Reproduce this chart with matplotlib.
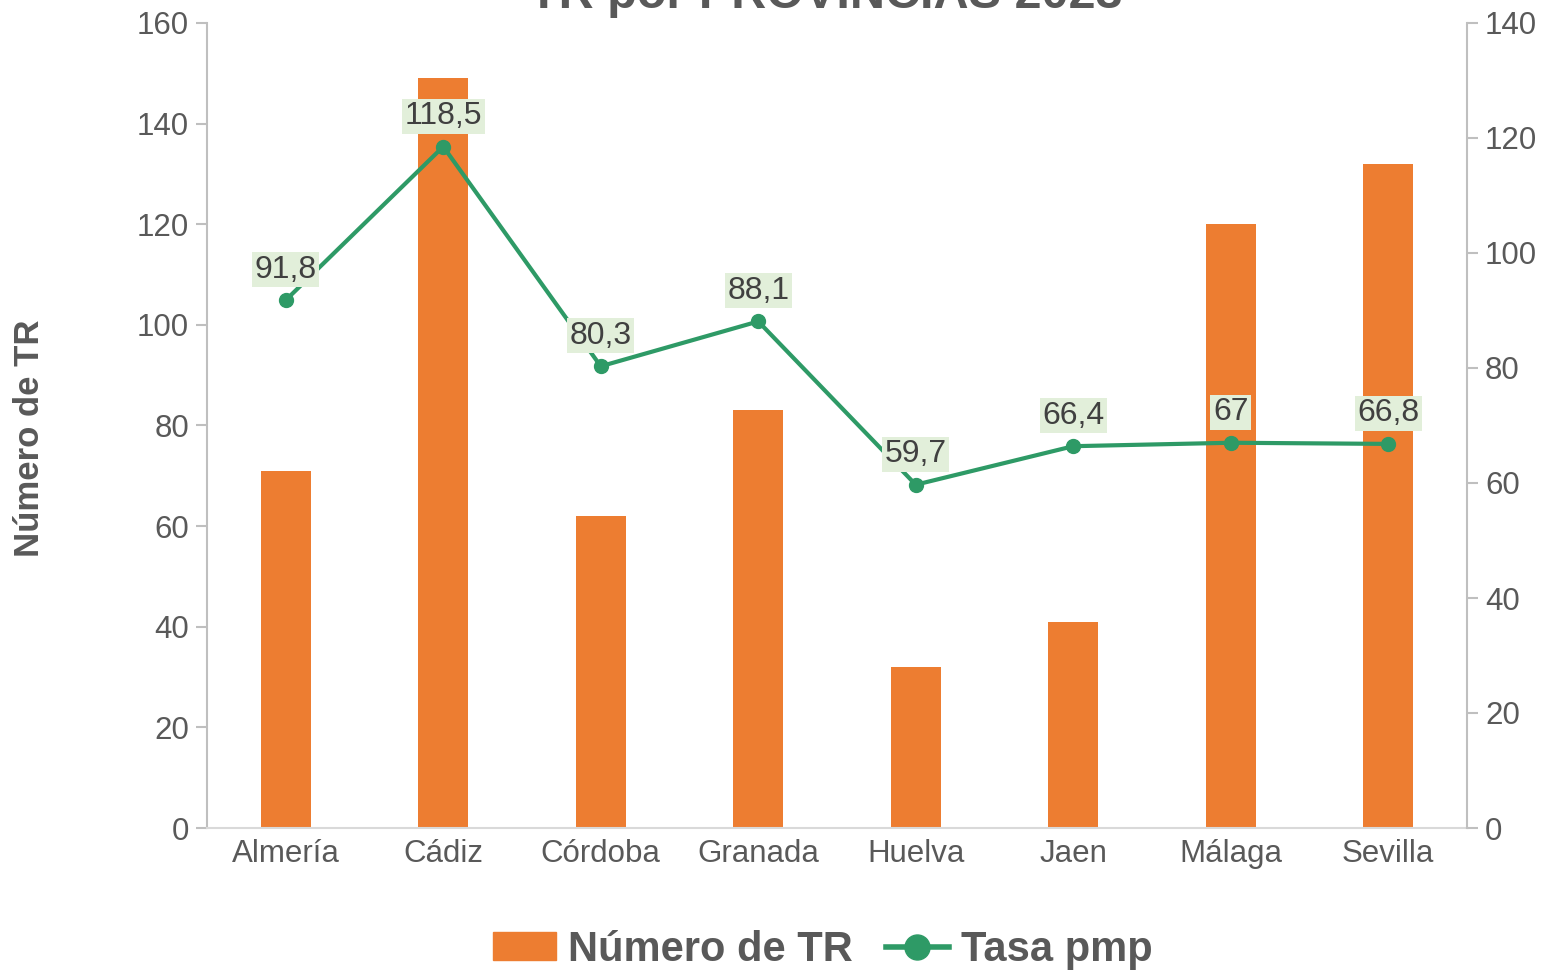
import matplotlib.pyplot as plt
from matplotlib.lines import Line2D
from matplotlib.patches import Patch

plt.rcParams['font.family'] = ['Liberation Sans', 'DejaVu Sans']

# data
provincias = ['Almería', 'Cádiz', 'Córdoba', 'Granada', 'Huelva', 'Jaen', 'Málaga', 'Sevilla']
numero_tr = [71, 149, 62, 83, 32, 41, 120, 132]
tasa_pmp = [91.8, 118.5, 80.3, 88.1, 59.7, 66.4, 67, 66.8]
tasa_labels = ['91,8', '118,5', '80,3', '88,1', '59,7', '66,4', '67', '66,8']

orange = '#ed7d31'
green = '#2e9a66'
grey = '#595959'

fig = plt.figure(figsize=(15.46, 9.71), dpi=100)
ax = fig.add_axes([207 / 1546, 1 - 828 / 971, 1260 / 1546, 805 / 971])
ax2 = ax.twinx()

x = range(len(provincias))
ax.bar(x, numero_tr, width=0.32, color=orange, zorder=2)
ax.set_xlim(-0.5, 7.5)
ax.set_ylim(0, 160)
ax.set_yticks(range(0, 161, 20))
ax.set_xticks(list(x))
ax.set_xticklabels(provincias)

ax2.plot(x, tasa_pmp, color=green, lw=3, marker='o', ms=10, zorder=3)
ax2.set_ylim(0, 140)
ax2.set_yticks(range(0, 141, 20))
for xi, v, lab in zip(x, tasa_pmp, tasa_labels):
    ax2.annotate(lab, (xi, v), xytext=(0, 22), textcoords='offset points',
                 ha='center', va='center', fontsize=23, color='#404040',
                 bbox=dict(boxstyle='square,pad=0.08', fc='#e2efda', ec='none'))

for a in (ax, ax2):
    for s in a.spines.values():
        s.set_visible(False)
    a.tick_params(labelsize=22.5, colors=grey)
ax.spines['left'].set_visible(True)
ax.spines['left'].set_color('#bfbfbf')
ax.spines['left'].set_linewidth(1.5)
ax.spines['bottom'].set_visible(True)
ax.spines['bottom'].set_color('#d9d9d9')
ax.spines['bottom'].set_linewidth(1.5)
ax2.spines['right'].set_visible(True)
ax2.spines['right'].set_color('#bfbfbf')
ax2.spines['right'].set_linewidth(1.5)
ax.tick_params(axis='y', length=8, width=1.5, color='#bfbfbf', pad=5)
ax2.tick_params(axis='y', length=8, width=1.5, color='#bfbfbf', pad=5)
ax.tick_params(axis='x', length=0, pad=8)

ax.set_ylabel('Número de TR', fontsize=25, fontweight='bold', color=grey)
ax.yaxis.set_label_coords(-0.128, 0.4845)

fig.text(826 / 1546, 1 - 8 / 971, 'TR por PROVINCIAS 2023', ha='center', va='baseline',
         fontsize=35, fontweight='bold', color=grey)

handles = [Patch(color=orange, label='Número de TR'),
           Line2D([], [], color=green, lw=4, marker='o', ms=18, label='Tasa pmp')]
fig.legend(handles=handles, loc='center', bbox_to_anchor=(823 / 1546, 1 - 950 / 971),
           ncol=2, frameon=False, prop={'size': 30, 'weight': 'bold'},
           labelcolor=grey, handlelength=1.5, handleheight=0.65, columnspacing=0.8,
           handletextpad=0.3)

fig.savefig('out.png', dpi=100)
